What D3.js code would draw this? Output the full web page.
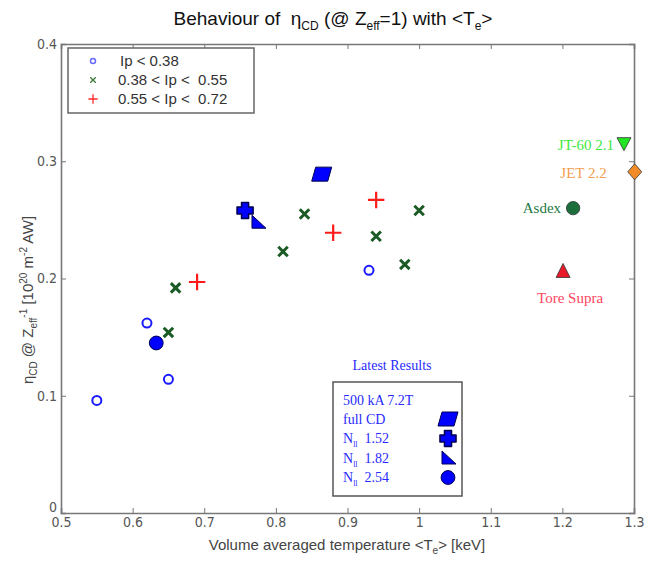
<!DOCTYPE html>
<html>
<head>
<meta charset="utf-8">
<script src="https://cdn.jsdelivr.net/npm/d3@7"></script>
<style>
  body { margin: 0; background: #fff; }
  .axis text { font-family: "Liberation Sans Narrow", "DejaVu Sans Condensed", "Liberation Sans", sans-serif; font-size: 14px; fill: #555; }
  .axis path, .axis line { stroke: #777; }
</style>
</head>
<body>
<div id="chart"></div>
<script>
// Ip < 0.38
const lowIpT = [0.55, 0.62, 0.65, 0.93]
const lowIpEta = [0.096, 0.162, 0.114, 0.207]
// 0.38 < Ip < 0.55
const midIpT = [0.65, 0.66, 0.81, 0.84, 0.94, 0.98, 1.00]
const midIpEta = [0.154, 0.192, 0.223, 0.255, 0.236, 0.212, 0.258]
// 0.55 < Ip < 0.72
const highIpT = [0.69, 0.88, 0.94]
const highIpEta = [0.197, 0.239, 0.267]
// latest results
const latestNames = ["full CD", "N 1.52", "N 1.82", "N 2.54"]
const latestT = [0.864, 0.757, 0.775, 0.633]
const latestEta = [0.289, 0.258, 0.248, 0.145]
// other machines
const machineNames = ["JT-60 2.1", "JET 2.2", "Asdex", "Tore Supra"]
const machineT = [1.286, 1.301, 1.215, 1.201]
const machineEta = [0.315, 0.291, 0.260, 0.206]

const xTicks = [0.5, 0.6, 0.7, 0.8, 0.9, 1, 1.1, 1.2, 1.3]
const yTicks = [0, 0.1, 0.2, 0.3, 0.4]

const outerWidth = 646
const outerHeight = 562
const margin = {top: 44, right: 12, bottom: 49, left: 61}
const w = outerWidth - margin.left - margin.right
const h = outerHeight - margin.top - margin.bottom

const root = d3.select("#chart").append("svg")
    .attr("width", outerWidth)
    .attr("height", outerHeight)

const svg = root.append("g")
    .attr("transform", `translate(${margin.left}, ${margin.top})`)

const xScale = d3.scaleLinear().domain([0.5, 1.3]).range([0, w])
const yScale = d3.scaleLinear().domain([0, 0.4]).range([h, 0])

const fmt = d => d === 0 ? "0" : d3.format("")(d)

svg.append("g").attr("class", "axis")
    .attr("transform", `translate(0, ${h})`)
    .call(d3.axisBottom(xScale).tickValues(xTicks).tickFormat(fmt).tickSize(-5).tickPadding(4))
svg.append("g").attr("class", "axis")
    .call(d3.axisTop(xScale).tickValues(xTicks).tickFormat("").tickSize(-5))
const yAxisG = svg.append("g").attr("class", "axis")
    .call(d3.axisLeft(yScale).tickValues(yTicks).tickFormat(fmt).tickSize(-5).tickPadding(4))
svg.append("g").attr("class", "axis")
    .attr("transform", `translate(${w}, 0)`)
    .call(d3.axisRight(yScale).tickValues(yTicks).tickFormat("").tickSize(-5))

svg.selectAll(".axis .domain").attr("stroke-width", 1.6)
// the zero label sits a little above the corner, clear of "0.5"
yAxisG.selectAll(".tick").filter(d => d === 0).select("text").attr("y", -6)

// Ip < 0.38: open circles
svg.selectAll(".low").data(d3.zip(lowIpT, lowIpEta)).join("circle")
    .attr("class", "low")
    .attr("cx", d => xScale(d[0])).attr("cy", d => yScale(d[1]))
    .attr("r", 4.5).attr("fill", "none").attr("stroke", "#1a1aff").attr("stroke-width", 2)

// 0.38 < Ip < 0.55: crosses
const xSym = d3.symbol().type(d3.symbolX).size(60)
svg.selectAll(".mid").data(d3.zip(midIpT, midIpEta)).join("path")
    .attr("class", "mid")
    .attr("transform", d => `translate(${xScale(d[0])}, ${yScale(d[1])})`)
    .attr("d", xSym).attr("fill", "none").attr("stroke", "#1a5a24").attr("stroke-width", 3)

// 0.55 < Ip < 0.72: plus
const plusSym = d3.symbol().type(d3.symbolPlus).size(90)
svg.selectAll(".high").data(d3.zip(highIpT, highIpEta)).join("path")
    .attr("class", "high")
    .attr("transform", d => `translate(${xScale(d[0])}, ${yScale(d[1])})`)
    .attr("d", plusSym).attr("fill", "none").attr("stroke", "#ff1a1a").attr("stroke-width", 2.2)

// latest results shapes
const shapes = {
    "full CD": "M-6,-7 L10,-7 L6,7 L-10,7 Z",
    "N 1.52": "M-3.5,-8 L3.5,-8 L3.5,-3.5 L8,-3.5 L8,3.5 L3.5,3.5 L3.5,8 L-3.5,8 L-3.5,3.5 L-8,3.5 L-8,-3.5 L-3.5,-3.5 Z",
    "N 1.82": "M-6,-7 L-6,6 L8,6 Z",
    "N 2.54": d3.symbol().type(d3.symbolCircle).size(150)()
}
const shapeStroke = {"N 1.52": 1.6}
svg.selectAll(".latest").data(d3.zip(latestNames, latestT, latestEta)).join("path")
    .attr("class", "latest")
    .attr("transform", d => `translate(${xScale(d[1])}, ${yScale(d[2])})`)
    .attr("d", d => shapes[d[0]])
    .attr("fill", "#0000ff").attr("stroke", "#000050")
    .attr("stroke-width", d => shapeStroke[d[0]] || 1)
    .attr("stroke-linejoin", "round")

// other machines
const machineStyle = {
    "JT-60 2.1": {shape: "M-7,-6 L7,-6 L0,7 Z", fill: "#22e622", text: "#3ee83e", dx: -10, dy: 1, anchor: "end"},
    "JET 2.2": {shape: "M0,-8 L7,0 L0,8 L-7,0 Z", fill: "#f28c28", text: "#f5a050", dx: -28, dy: 1, anchor: "end"},
    "Asdex": {shape: d3.symbol().type(d3.symbolCircle).size(140)(), fill: "#1c6e3c", text: "#1f7a45", dx: -12, dy: 0, anchor: "end"},
    "Tore Supra": {shape: "M0,-8 L7,6 L-7,6 Z", fill: "#e81a2a", text: "#ff4460", dx: 7, dy: 26, anchor: "middle"}
}
const machines = svg.selectAll(".machine").data(d3.zip(machineNames, machineT, machineEta)).join("g")
    .attr("class", "machine")
    .attr("transform", d => `translate(${xScale(d[1])}, ${yScale(d[2])})`)
machines.append("path")
    .attr("d", d => machineStyle[d[0]].shape)
    .attr("fill", d => machineStyle[d[0]].fill)
    .attr("stroke", "#333").attr("stroke-width", 0.8)
machines.append("text")
    .attr("x", d => machineStyle[d[0]].dx)
    .attr("y", d => machineStyle[d[0]].dy)
    .attr("dy", "0.35em")
    .attr("text-anchor", d => machineStyle[d[0]].anchor)
    .attr("fill", d => machineStyle[d[0]].text)
    .style("font-family", "'Liberation Serif', serif").style("font-size", "15px")
    .text(d => d[0])

// Ip legend
const legend = svg.append("g").attr("transform", "translate(7, 4)")
legend.append("rect").attr("width", 186).attr("height", 65)
    .attr("fill", "#fff").attr("stroke", "#666").attr("stroke-width", 1.5)
const ipLabels = ["Ip < 0.38", "0.38 < Ip <  0.55", "0.55 < Ip <  0.72"]
ipLabels.forEach((t, i) => {
    const y = 13 + i * 19
    const g = legend.append("g").attr("transform", `translate(25, ${y})`)
    if (i === 0) g.append("circle").attr("r", 2.5).attr("fill", "none").attr("stroke", "#6a6aff").attr("stroke-width", 1.5)
    if (i === 1) g.append("path").attr("d", d3.symbol().type(d3.symbolX).size(22)()).attr("stroke", "#3a7a3a").attr("stroke-width", 1.3)
    if (i === 2) g.append("path").attr("d", d3.symbol().type(d3.symbolPlus).size(30)()).attr("stroke", "#ff2a2a").attr("stroke-width", 1.3)
    legend.append("text").attr("x", i === 0 ? 52 : 50).attr("y", y).attr("dy", "0.35em")
        .attr("fill", "#333").style("font-family", "'Liberation Sans Narrow', 'Liberation Sans', sans-serif").style("font-size", "15px")
        .attr("xml:space", "preserve").style("white-space", "pre")
        .text(t)
})

// latest results legend
const latest = svg.append("g").attr("transform", "translate(272, 338)")
const serif = "'Liberation Serif', serif"
latest.append("text").attr("x", 59).attr("y", -12).attr("text-anchor", "middle")
    .attr("fill", "#2a2aff").style("font-family", serif).style("font-size", "14px").text("Latest Results")
latest.append("rect").attr("width", 129).attr("height", 114)
    .attr("fill", "#fff").attr("stroke", "#555").attr("stroke-width", 1.5)
latest.append("text").attr("x", 10).attr("y", 18).attr("dy", "0.35em")
    .attr("fill", "#2a2aff").style("font-family", serif).style("font-size", "14px").text("500 kA 7.2T")
latestNames.forEach((name, i) => {
    const y = 37 + i * 19.5
    const t = latest.append("text").attr("x", 10).attr("y", y).attr("dy", "0.35em")
        .attr("fill", "#2a2aff").style("font-family", serif).style("font-size", "14px")
        .attr("xml:space", "preserve").style("white-space", "pre")
    if (name.startsWith("N ")) {
        t.append("tspan").text("N")
        t.append("tspan").attr("dy", 4).style("font-size", "8px").text("ll")
        t.append("tspan").attr("dy", -4).text("  " + name.slice(2))
    } else {
        t.text(name)
    }
    latest.append("path").attr("transform", `translate(115, ${y})`)
        .attr("d", shapes[name]).attr("fill", "#0000ff").attr("stroke", "#000050")
        .attr("stroke-width", shapeStroke[name] || 1).attr("stroke-linejoin", "round")
})

// title
const title = root.append("text").attr("x", 333).attr("y", 25).attr("text-anchor", "middle")
    .style("font-family", "'Liberation Sans', sans-serif").style("font-size", "19px").attr("fill", "#111")
    .attr("xml:space", "preserve").style("white-space", "pre")
title.append("tspan").text("Behaviour of  η")
title.append("tspan").attr("dy", 5).style("font-size", "12px").text("CD")
title.append("tspan").attr("dy", -5).text(" (@ Z")
title.append("tspan").attr("dy", 5).style("font-size", "12px").text("eff")
title.append("tspan").attr("dy", -5).text("=1) with <T")
title.append("tspan").attr("dy", 5).style("font-size", "12px").text("e")
title.append("tspan").attr("dy", -5).text(">")

// x label
const xl = root.append("text").attr("x", 347).attr("y", 550).attr("text-anchor", "middle")
    .style("font-family", "'Liberation Sans Narrow', 'Liberation Sans', sans-serif").style("font-size", "15px").attr("fill", "#444")
xl.append("tspan").text("Volume averaged temperature <T")
xl.append("tspan").attr("dy", 4).style("font-size", "10px").text("e")
xl.append("tspan").attr("dy", -4).text("> [keV]")

// y label
const yl = root.append("text").attr("transform", "translate(33, 300) rotate(-90)").attr("text-anchor", "middle")
    .style("font-family", "'Liberation Sans Narrow', 'Liberation Sans', sans-serif").style("font-size", "15px").attr("fill", "#444")
    .attr("xml:space", "preserve").style("white-space", "pre")
yl.append("tspan").text("η")
yl.append("tspan").attr("dy", 4).style("font-size", "10px").text("CD")
yl.append("tspan").attr("dy", -4).text(" @ Z")
yl.append("tspan").attr("dy", 4).style("font-size", "10px").text("eff")
yl.append("tspan").attr("dy", -10).style("font-size", "10px").text("-1")
yl.append("tspan").attr("dy", 6).text(" [10")
yl.append("tspan").attr("dy", -6).style("font-size", "10px").text("20")
yl.append("tspan").attr("dy", 6).text(" m")
yl.append("tspan").attr("dy", -6).style("font-size", "10px").text("-2")
yl.append("tspan").attr("dy", 6).text(" AW]")
</script>
</body>
</html>
